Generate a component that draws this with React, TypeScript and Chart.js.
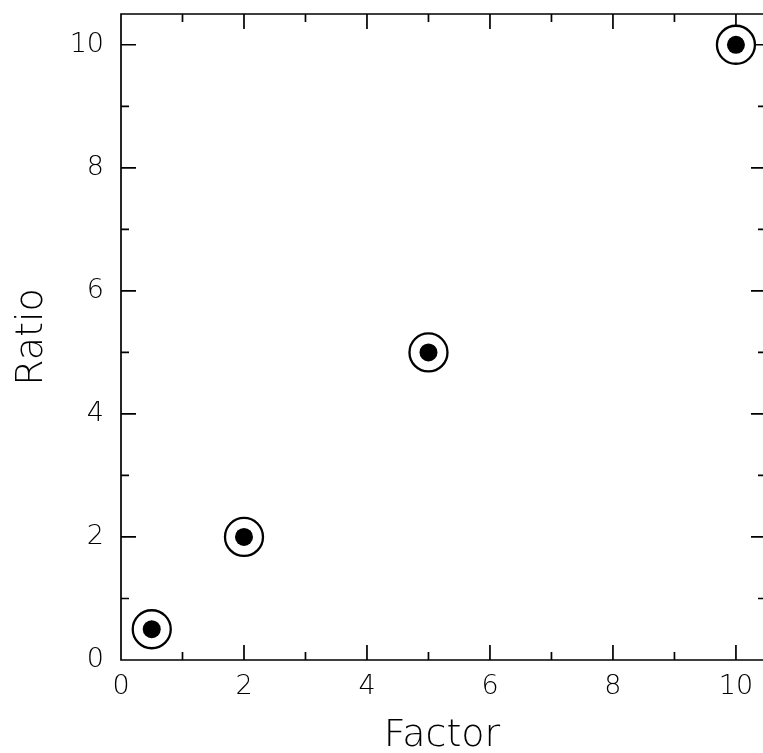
import React, { useEffect, useRef } from "react";
import { Chart, registerables } from "chart.js";

Chart.register(...registerables);

const factorValues = [0.5, 2, 5, 10];
const ratioValues = [0.5, 2, 5, 10];
const xMajorTicks = [0, 2, 4, 6, 8, 10];
const xMinorTicks = [1, 3, 5, 7, 9];
const yMajorTicks = [0, 2, 4, 6, 8, 10];
const yMinorTicks = [1, 3, 5, 7, 9];
const xTitle = "Factor";
const yTitle = "Ratio";

const FONT = "'DejaVu Sans', sans-serif";

const framePlugin = {
  id: "frame",
  beforeDatasetsDraw(chart: any) {
    const { ctx, chartArea, scales } = chart;
    const { left, right, top, bottom } = chartArea;
    const xs = scales.x;
    const ys = scales.y;
    const major = 15;
    const minor = 8;
    ctx.save();
    ctx.strokeStyle = "#000";
    ctx.lineWidth = 1.7;
    ctx.beginPath();
    ctx.moveTo(right + 2, top);
    ctx.lineTo(left, top);
    ctx.lineTo(left, bottom);
    ctx.lineTo(right + 2, bottom);
    const xt = (v: number, len: number) => {
      const p = xs.getPixelForValue(v);
      ctx.moveTo(p, bottom);
      ctx.lineTo(p, bottom - len);
      ctx.moveTo(p, top);
      ctx.lineTo(p, top + len);
    };
    const yt = (v: number, len: number) => {
      const p = ys.getPixelForValue(v);
      ctx.moveTo(left, p);
      ctx.lineTo(left + len, p);
      ctx.moveTo(right + 3, p);
      ctx.lineTo(right + 3 - len, p);
    };
    xMajorTicks.forEach((v) => xt(v, major));
    xMinorTicks.forEach((v) => xt(v, minor));
    yMajorTicks.forEach((v) => yt(v, major));
    yMinorTicks.forEach((v) => yt(v, minor));
    ctx.stroke();
    ctx.restore();
  },
};

const zeroPad = (s: any) => {
  s.paddingTop = 0;
  s.paddingBottom = 0;
  s.paddingLeft = 0;
  s.paddingRight = 0;
};

export default function App() {
  const ref = useRef<HTMLCanvasElement>(null);
  useEffect(() => {
    if (!ref.current) return;
    const pts = factorValues.map((x, i) => ({ x, y: ratioValues[i] }));
    const chart = new Chart(ref.current, {
      type: "scatter",
      data: {
        datasets: [
          {
            data: pts,
            pointRadius: 9,
            pointBorderWidth: 0,
            pointBackgroundColor: "#000",
            pointBorderColor: "#000",
            pointHoverRadius: 9,
            clip: false as any,
            order: 0,
          },
          {
            data: pts,
            pointRadius: 19,
            pointBorderWidth: 2.3,
            pointBorderColor: "#000",
            pointBackgroundColor: "#fff",
            pointHoverRadius: 19,
            clip: false as any,
            order: 1,
          },
        ],
      },
      options: {
        animation: false,
        responsive: true,
        maintainAspectRatio: false,
        layout: { autoPadding: false, padding: { top: 14, right: 0, bottom: 0, left: 0 } },
        plugins: { legend: { display: false }, tooltip: { enabled: false } },
        events: [],
        scales: {
          x: {
            type: "linear",
            min: 0,
            max: 10.44,
            afterBuildTicks: (s: any) => {
              s.ticks = xMajorTicks.map((v) => ({ value: v }));
            },
            afterFit: (s: any) => {
              s.height = 93;
              zeroPad(s);
            },
            grid: { display: false, drawTicks: false },
            border: { display: false },
            ticks: {
              padding: 11,
              color: "#000",
              maxRotation: 0,
              font: { family: FONT, size: 27, weight: "200" as any },
            },
            title: {
              display: true,
              text: xTitle,
              color: "#000",
              padding: { top: 0, bottom: -6.4 },
              font: { family: FONT, size: 38, weight: "200" as any },
            },
          },
          y: {
            type: "linear",
            min: 0,
            max: 10.5,
            afterBuildTicks: (s: any) => {
              s.ticks = yMajorTicks.map((v) => ({ value: v }));
            },
            afterFit: (s: any) => {
              s.width = 121;
              zeroPad(s);
            },
            grid: { display: false, drawTicks: false },
            border: { display: false },
            ticks: {
              padding: 17,
              color: "#000",
              font: { family: FONT, size: 27, weight: "200" as any },
            },
            title: {
              display: true,
              text: yTitle,
              color: "#000",
              padding: { top: 9.5, bottom: 0 },
              font: { family: FONT, size: 38, weight: "200" as any },
            },
          },
        },
      },
      plugins: [framePlugin],
    });
    return () => chart.destroy();
  }, []);
  return (
    <div style={{ position: "fixed", left: 0, top: 0, width: 763, height: 753, background: "#fff" }}>
      <canvas ref={ref} />
    </div>
  );
}
